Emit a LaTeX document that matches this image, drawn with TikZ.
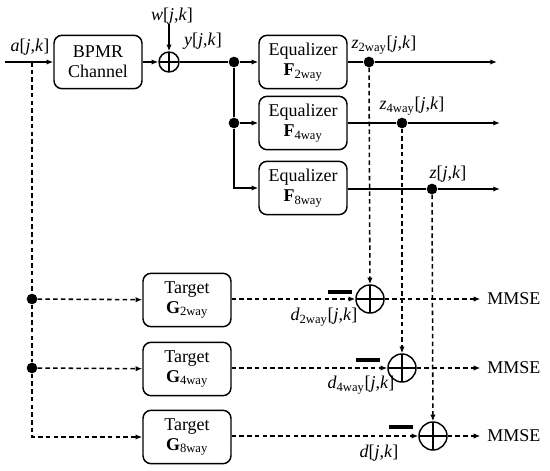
\documentclass[tikz,border=0pt]{standalone}
\usepackage{fontspec}
\setmainfont{Liberation Serif}
\usetikzlibrary{arrows.meta,positioning,calc}
\newcommand\jk{[\textit{j},\textit{k}]}
\tikzset{>={Latex[length=5pt,width=4pt]},
  every node/.style={font=\fontsize{13.5}{15}\selectfont},
  blk/.style={draw,line width=1.1pt,rounded corners=6pt,align=center,
    minimum width=66pt,minimum height=40pt,inner sep=1pt},
  adder/.style={draw,circle,line width=1.1pt,inner sep=0pt,minimum size=#1,
    path picture={\draw[line width=0.9pt]
      (path picture bounding box.north)--(path picture bounding box.south)
      (path picture bounding box.west)--(path picture bounding box.east);}},
  dot/.style={circle,fill,inner sep=0pt,minimum size=8pt},
  minusbar/.style={fill,inner sep=0pt,minimum width=18pt,minimum height=3.5pt},
  sig/.style={line width=1.15pt},
  dsig/.style={line width=1.15pt,dash pattern=on 3.4pt off 2.4pt},
  lbl/.style={inner sep=0pt}}
\begin{document}
\begin{tikzpicture}[x=0.75pt,y=-0.75pt]
  \useasboundingbox (0,0) rectangle (550,471);
  % upper path: channel and equalizers
  \coordinate (in) at (5,62);
  \coordinate (ain) at (32,62);
  \node[blk] (chan) at (98,62) {BPMR\\Channel};
  \node[adder=15pt] (sum) at (169,62) {};
  \node[lbl] (w) at (172,16) {\textit{w}\jk};
  \node[lbl] (y) at (203,41) {\textit{y}\jk};
  \node[lbl] (a) at (30,47) {\textit{a}\jk};
  \node[dot] (b1) at (234,62) {};
  \node[dot] (b2) at (234,123) {};
  \node[blk] (eq1) at (303,62) {Equalizer\\\textbf{F}\textsubscript{2way}};
  \node[blk] (eq2) at (303,123) {Equalizer\\\textbf{F}\textsubscript{4way}};
  \node[blk] (eq3) at (303,188) {Equalizer\\\textbf{F}\textsubscript{8way}};
  \node[dot] (t1) at (369,62) {};
  \node[dot] (t2) at (402,123) {};
  \node[dot] (t3) at (432,189) {};
  \coordinate (o1) at (497,62);
  \coordinate (o2) at (500,123);
  \coordinate (o3) at (500,189);
  \node[lbl] (z1) at (384,45) {\textit{z}\textsubscript{2way}\jk};
  \node[lbl] (z2) at (412,106) {\textit{z}\textsubscript{4way}\jk};
  \node[lbl] (z3) at (448,174) {\textit{z}\jk};
  \draw[sig,->] (in) -- (chan);
  \draw[sig,->] (chan) -- (sum);
  \draw[sig,->] (w.south -| sum) -- (sum);
  \draw[sig] (sum) -- (b1);
  \draw[sig,->] (b1) -- (eq1);
  \draw[sig] (b1) -- (b2);
  \draw[sig,->] (b2) -- (eq2);
  \draw[sig,->] (b2) |- (eq3);
  \draw[sig,->] (eq1) -- (t1) -- (o1);
  \draw[sig,->] (eq2) -- (t2) -- (o2);
  \draw[sig,->] (eq3.east |- t3) -- (t3) -- (o3);
  % lower path: targets and error
  \node[dot] (e1) at (32,299) {};
  \node[dot] (e2) at (32,368) {};
  \node[blk] (tg1) at (187,300) {Target\\\textbf{G}\textsubscript{2way}};
  \node[blk] (tg2) at (187,369) {Target\\\textbf{G}\textsubscript{4way}};
  \node[blk] (tg3) at (187,437) {Target\\\textbf{G}\textsubscript{8way}};
  \node[adder=21pt] (s1) at (370,299) {};
  \node[adder=21pt] (s2) at (402,368) {};
  \node[adder=21pt] (s3) at (433,436) {};
  \node[minusbar] (n1) at (340,292) {};
  \node[minusbar] (n2) at (368,360) {};
  \node[minusbar] (n3) at (401,427) {};
  \node[lbl] (d1) at (324,317) {\textit{d}\textsubscript{2way}\jk};
  \node[lbl] (d2) at (361,385) {\textit{d}\textsubscript{4way}\jk};
  \node[lbl] (d3) at (379,453) {\textit{d}\jk};
  \node[lbl,anchor=west] (m1) at (487,299) {MMSE};
  \node[lbl,anchor=west] (m2) at (487,368) {MMSE};
  \node[lbl,anchor=west] (m3) at (487,436) {MMSE};
  \draw[dsig] (ain) -- (e1) -- (e2);
  \draw[dsig,->] (e2) |- (tg3);
  \draw[dsig,->] (e1) -- (tg1);
  \draw[dsig,->] (e2) -- (tg2);
  \draw[dsig,->] (tg1.east |- s1) -- (s1);
  \draw[dsig,->] (tg2.east |- s2) -- (s2);
  \draw[dsig,->] (tg3.east |- s3) -- (s3);
  \draw[dsig,->] (t1) -- (s1);
  \draw[dsig,->] (t2) -- (s2);
  \draw[dsig,->] (t3) -- (s3);
  \draw[dsig,->] (s1) -- ([xshift=-5pt]m1.west);
  \draw[dsig,->] (s2) -- ([xshift=-5pt]m2.west);
  \draw[dsig,->] (s3) -- ([xshift=-5pt]m3.west);
\end{tikzpicture}
\end{document}
